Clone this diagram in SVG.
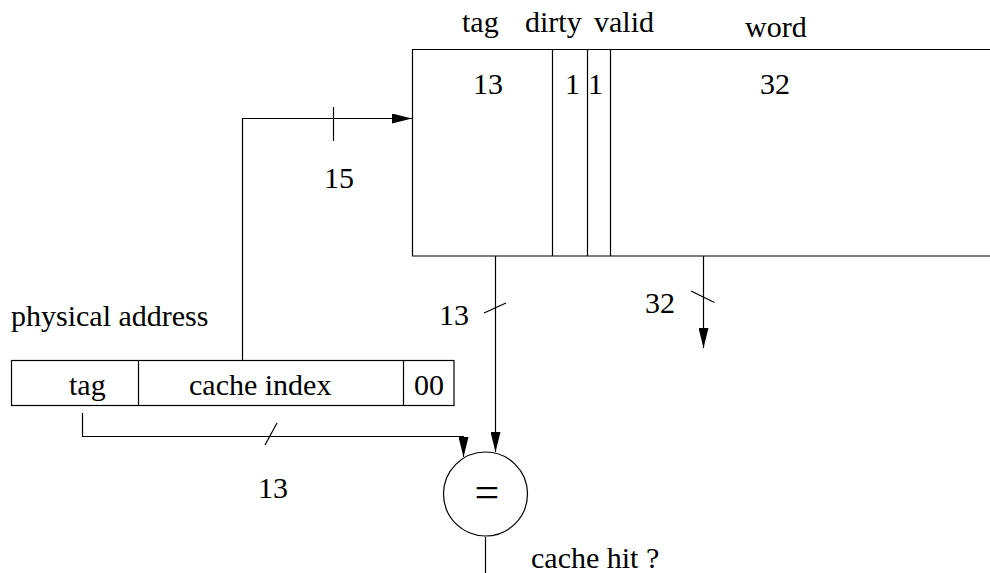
<svg xmlns="http://www.w3.org/2000/svg" width="990" height="573" viewBox="0 0 990 573">
  <style>
    .ln { fill: none; stroke: #000; stroke-width: 1.2; }
    .tx { font-family: 'Liberation Serif', 'Times New Roman', Times, 'DejaVu Serif', serif; font-size: 30px; fill: #000; }
  </style>
  <defs>
    <marker id="arrow" viewBox="0 0 20 10" refX="20" refY="5" markerWidth="20" markerHeight="10" markerUnits="userSpaceOnUse" orient="auto">
      <path d="M0,0 L20,5 L0,10 z" fill="#000"/>
    </marker>
  </defs>
  <rect width="990" height="573" fill="#fff"/>

  <!-- cache line: tag / dirty / valid / word -->
  <g id="cache">
    <path class="ln" d="M990,49.5 H412.5 V256 H990"/>
    <path class="ln" d="M552.5,49.5 V256 M587.5,49.5 V256 M610.5,49.5 V256"/>
    <text class="tx" x="462" y="32">tag</text>
    <text class="tx" x="525" y="32">dirty</text>
    <text class="tx" x="594" y="32">valid</text>
    <text class="tx" x="745" y="37">word</text>
    <text class="tx" x="473" y="94">13</text>
    <text class="tx" x="565" y="94">1</text>
    <text class="tx" x="588" y="94">1</text>
    <text class="tx" x="760" y="94">32</text>
  </g>

  <!-- physical address register -->
  <g id="address">
    <text class="tx" x="11" y="326">physical address</text>
    <rect class="ln" x="11.5" y="360.5" width="442.5" height="45"/>
    <path class="ln" d="M138.5,360.5 V405.5 M403.5,360.5 V405.5"/>
    <text class="tx" x="69" y="395">tag</text>
    <text class="tx" x="189" y="395">cache index</text>
    <text class="tx" x="414" y="395">00</text>
  </g>

  <!-- tag comparator -->
  <g id="compare">
    <circle class="ln" cx="485.5" cy="494" r="42"/>
    <text class="tx" x="487" y="507" text-anchor="middle" style="font-size:44px">=</text>
  </g>

  <g id="connectors">
    <!-- cache index selects the line -->
    <path class="ln" d="M242.5,360 V118.5 H412" marker-end="url(#arrow)"/>
    <path class="ln" d="M333.5,107 V141"/>
    <text class="tx" x="324" y="188">15</text>

    <!-- stored tag to comparator -->
    <path class="ln" d="M495.5,256 V452" marker-end="url(#arrow)"/>
    <path class="ln" d="M484,313 L506,303"/>
    <text class="tx" x="439" y="325">13</text>

    <!-- data word out -->
    <path class="ln" d="M703.5,256 V348" marker-end="url(#arrow)"/>
    <path class="ln" d="M691,291 L714.5,302.5"/>
    <text class="tx" x="645" y="313">32</text>

    <!-- address tag to comparator -->
    <path class="ln" d="M82.5,413 V436.5 H463.5 V457" marker-end="url(#arrow)"/>
    <path class="ln" d="M265,445 L277,423"/>
    <text class="tx" x="258" y="498">13</text>

    <!-- hit output -->
    <path class="ln" d="M485.5,537 V573"/>
    <text class="tx" x="531" y="568">cache hit ?</text>
  </g>
</svg>
